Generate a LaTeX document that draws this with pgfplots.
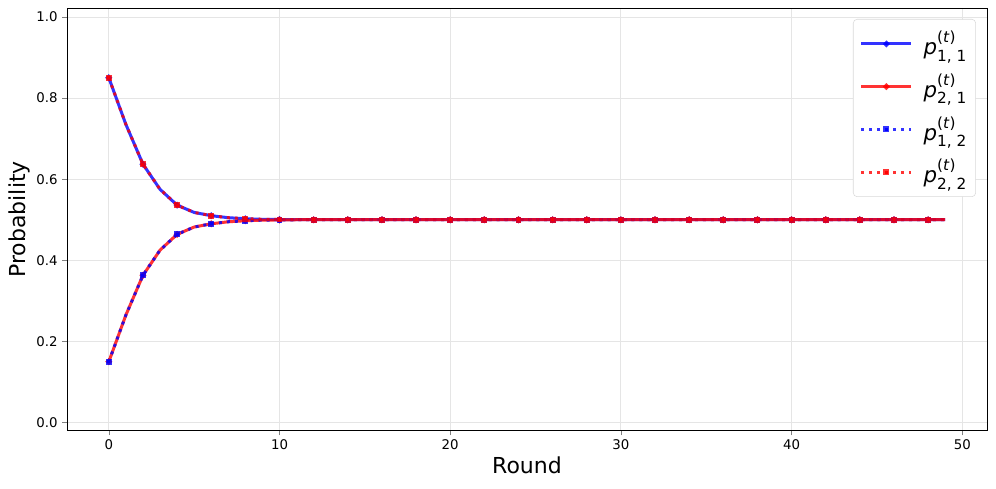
\documentclass[border=0pt]{standalone}
\usepackage{fontspec}
\setmainfont{DejaVu Sans}
\usepackage{pgfplots}
\usepackage{pgfplotstable}
\pgfplotsset{compat=1.18}

% round, upper curve (p11 = p22), lower curve (p21 = p12)
\pgfplotstableread{
x up lo
0 0.850 0.150
1 0.735 0.265
2 0.637 0.363
3 0.575 0.425
4 0.536 0.464
5 0.518 0.482
6 0.510 0.490
7 0.505 0.495
8 0.5025 0.4975
9 0.501 0.499
10 0.5005 0.4995
11 0.5 0.5
12 0.5 0.5
13 0.5 0.5
14 0.5 0.5
15 0.5 0.5
16 0.5 0.5
17 0.5 0.5
18 0.5 0.5
19 0.5 0.5
20 0.5 0.5
21 0.5 0.5
22 0.5 0.5
23 0.5 0.5
24 0.5 0.5
25 0.5 0.5
26 0.5 0.5
27 0.5 0.5
28 0.5 0.5
29 0.5 0.5
30 0.5 0.5
31 0.5 0.5
32 0.5 0.5
33 0.5 0.5
34 0.5 0.5
35 0.5 0.5
36 0.5 0.5
37 0.5 0.5
38 0.5 0.5
39 0.5 0.5
40 0.5 0.5
41 0.5 0.5
42 0.5 0.5
43 0.5 0.5
44 0.5 0.5
45 0.5 0.5
46 0.5 0.5
47 0.5 0.5
48 0.5 0.5
49 0.5 0.5
}\probs

\newcommand{\pp}[1]{\hspace{6pt}\textit{p}\rlap{\raisebox{0.55em}{\fontsize{11.5}{12}\selectfont(\textit{t})}}\raisebox{-0.3em}{\fontsize{11.5}{12}\selectfont #1}}

\begin{document}
\begin{tikzpicture}
\begin{axis}[scale only axis,width=690pt,height=317pt,
    xmin=-2.45,xmax=51.45,ymin=-0.02,ymax=1.022,
    xtick={0,10,20,30,40,50},ytick={0,0.2,0.4,0.6,0.8,1.0},
    yticklabel style={/pgf/number format/fixed,/pgf/number format/fixed zerofill,/pgf/number format/precision=1},
    /pgf/number format/assume math mode=true,
    tick label style={font=\fontsize{10}{12}\selectfont},
    tick align=outside,tick pos=left,
    major tick length=3.5pt,
    grid=major,major grid style={gray!20,line width=0.6pt},
    axis line style={line width=0.6pt},
    xlabel={Round},ylabel={Probability},
    label style={font=\fontsize{16.5}{18}\selectfont},
    xlabel style={yshift=2pt},ylabel style={yshift=-2pt},
    legend style={at={(0.988,0.974)},anchor=north east,draw=gray!30,rounded corners=3pt,
      font=\fontsize{16}{18}\selectfont,row sep=9pt,inner xsep=5pt,inner ysep=7pt},
    legend cell align=left,
    legend image code/.code={\draw[#1] (0pt,0pt) -- (37.5pt,0pt);\draw[#1,solid] plot coordinates {(18.75pt,0pt)};},
    every axis plot/.append style={line width=2.25pt,mark size=1.1pt,mark repeat=2,opacity=0.8},
  ]
\addplot[blue,mark=*] table[x=x,y=up] {\probs};
\addlegendentry{\pp{1, 1}}
\addplot[red,mark=*] table[x=x,y=lo] {\probs};
\addlegendentry{\pp{2, 1}}
\addplot[blue,mark=square*,dash pattern=on 2.25pt off 3.7pt,mark options={solid}] table[x=x,y=lo] {\probs};
\addlegendentry{\pp{1, 2}}
\addplot[red,mark=square*,dash pattern=on 2.25pt off 3.7pt,mark options={solid}] table[x=x,y=up] {\probs};
\addlegendentry{\pp{2, 2}}
\end{axis}
\pgfresetboundingbox
\useasboundingbox ([xshift=-50.25pt,yshift=-43.5pt]current axis.south west) rectangle ([xshift=6.75pt,yshift=6pt]current axis.north east);
\end{tikzpicture}
\end{document}
